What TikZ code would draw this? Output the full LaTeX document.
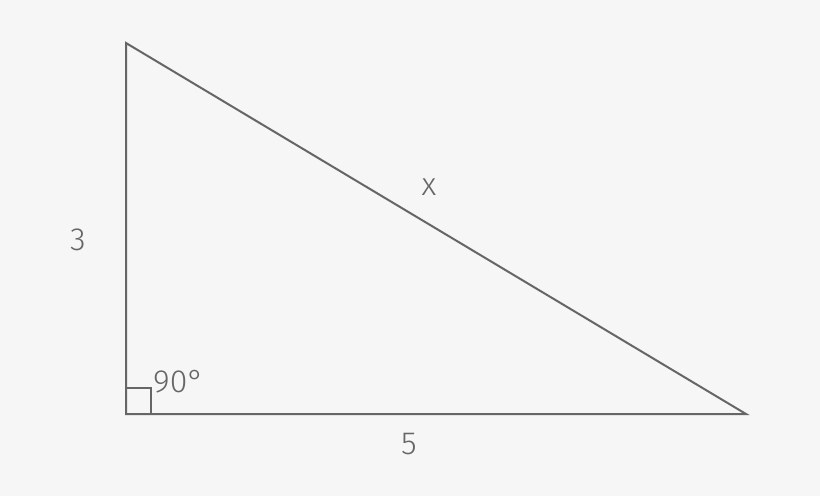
\documentclass[tikz,border=0pt]{standalone}
\usepackage{fontspec}
\setmainfont{Fira Sans}[UprightFont=* Light]
\usepackage{tikz}
\usetikzlibrary{positioning}
\definecolor{bgcol}{HTML}{F6F6F6}
\definecolor{linecol}{HTML}{666666}

\begin{document}
\begin{tikzpicture}[x=1pt, y=-1pt]
    % Define styles
    \tikzstyle{side} = [draw=linecol, line width=2pt, line join=miter]
    \tikzstyle{label} = [text=linecol, font=\fontsize{32}{38}\selectfont, inner sep=0pt]

    % Background
    \fill [bgcol] (0,0) rectangle (820,496);
    \useasboundingbox (0,0) rectangle (820,496);

    % Corners
    \coordinate (top) at (126,43);
    \coordinate (corner) at (126,414);
    \coordinate (right) at (746,414);

    % Triangle and right angle mark
    \draw [side] (top) -- (corner) -- (right) -- cycle;
    \draw [side] (126,388) -- (151,388) -- (151,414);

    % Labels
    \node [label] (lefty) at (78,240) {3};
    \node [label] (hyp) at (429,187) {x};
    \node [label] (base) at (409,444) {5};
    \node [label, anchor=west] (angle) at (153,382) {90°};
\end{tikzpicture}
\end{document}
